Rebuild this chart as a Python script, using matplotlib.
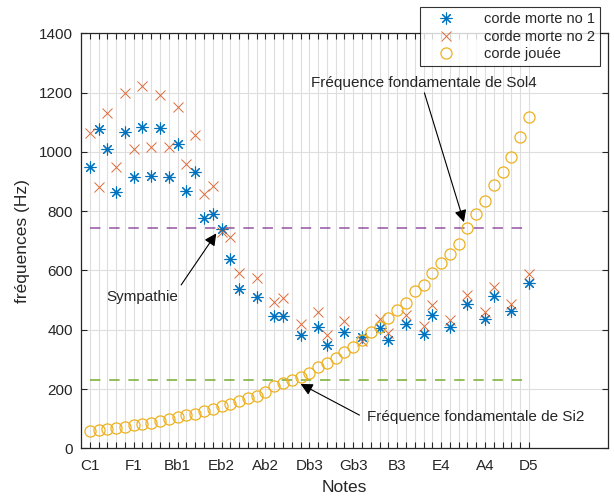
import numpy as np
import matplotlib
matplotlib.use("Agg")
import matplotlib.pyplot as plt

plt.rcParams["font.family"] = ["Liberation Sans", "DejaVu Sans"]
plt.rcParams["lines.scale_dashes"] = False

# note index 1..51 = C1 .. D5 (semitones)
note_pos = np.arange(1, 52)
tick_names = ["C1", "F1", "Bb1", "Eb2", "Ab2", "Db3", "Gb3", "B3", "E4", "A4", "D5"]

# corde jouee: frequency of each played note (Hz)
played = [60, 62, 64, 68, 73, 78, 81, 86, 93, 100,
          105, 111, 116, 125, 132, 142, 149, 158, 168, 178,
          191, 210, 219, 231, 240, 253, 273, 287, 305, 326,
          343, 366, 393, 410, 438, 468, 491, 529, 552, 590,
          626, 655, 690, 742, 789, 835, 887, 933, 982, 1051,
          1119]

# notes where the dead strings were measured
dead_pos = [1, 2, 3, 4, 5, 6, 7, 8, 9, 10, 11, 12, 13, 14, 15, 16, 17, 18,
            20, 22, 23, 25, 27, 28, 30, 32, 34, 35, 37, 39, 40, 42, 44, 46, 47, 49, 51]
dead1 = [950, 1077, 1009, 864, 1066, 916, 1085, 920, 1082, 914, 1027, 868, 933,
         776, 790, 739, 639, 536,
         509, 447, 447, 382, 408, 349, 393, 374, 405, 365, 419, 386, 450, 410,
         487, 435, 515, 464, 557]
dead2 = [1065, 880, 1130, 948, 1198, 1010, 1222, 1018, 1191, 1018, 1150, 958, 1056,
         858, 885, 731, 712, 592,
         576, 495, 506, 420, 461, 382, 429, 363, 435, 390, 450, 411, 482, 434,
         517, 461, 545, 487, 588]

f_sol4 = 744
f_si2 = 232

blue = "#0072BD"
orange = "#D95319"
yellow = "#EDB120"
purple = "#7E2F8E"
green = "#77AC30"
axcol = "#262626"

fig = plt.figure(figsize=(6.14, 4.99), dpi=100)
ax = fig.add_axes([0.1319, 0.1016, 0.8583, 0.8317])

ax.plot(dead_pos, dead1, ls="none", marker=(8, 2, 0), ms=8.5, mew=0.8,
        color=blue, label="corde morte no 1", zorder=3)
ax.plot(dead_pos, dead2, ls="none", marker="x", ms=7, mew=0.7,
        color=orange, alpha=0.85, label="corde morte no 2", zorder=3)
ax.plot(note_pos, played, ls="none", marker="o", ms=8, mew=0.9,
        mfc="none", color=yellow, label="corde jouée", zorder=3)

ax.plot([note_pos[0], note_pos[-1]], [f_sol4, f_sol4], color=purple, alpha=0.7,
        lw=1.3, dashes=(7.5, 6.3), zorder=2)
ax.plot([note_pos[0], note_pos[-1]], [f_si2, f_si2], color=green, alpha=0.85,
        lw=1.3, dashes=(7.5, 6.3), zorder=2)

ax.set_xlim(0, 60)
ax.set_ylim(0, 1400)
ax.set_xticks(note_pos)
labels = ["" for _ in note_pos]
for k, name in enumerate(tick_names):
    labels[k * 5] = name
ax.set_xticklabels(labels)
ax.set_yticks(np.arange(0, 1401, 200))

ax.grid(True, color="#dedede", lw=0.8)
ax.set_axisbelow(True)
ax.tick_params(direction="in", length=4, width=0.8, colors=axcol, labelsize=11,
               top=True, right=True, pad=6)
ax.tick_params(axis="x", pad=8)
ax.tick_params(axis="y", labelright=False)
for s in ax.spines.values():
    s.set_color(axcol)
    s.set_linewidth(0.9)

ax.set_xlabel("Notes", fontsize=12.5, color=axcol, labelpad=5)
ax.set_ylabel("fréquences (Hz)", fontsize=12.5, color=axcol, labelpad=6)

arrow = dict(arrowstyle="-|>", color="black", lw=0.8, mutation_scale=18,
             shrinkA=0, shrinkB=0)
ax.text(26.2, 1232, "Fréquence fondamentale de Sol4", fontsize=11,
        color=axcol, va="center", ha="left")
ax.annotate("", xy=(43.6, 763), xytext=(39.1, 1199), arrowprops=arrow)

ax.text(2.9, 511, "Sympathie", fontsize=11, color=axcol, va="center", ha="left")
ax.annotate("", xy=(15.4, 725), xytext=(11.4, 551), arrowprops=arrow)

ax.text(32.6, 107, "Fréquence fondamentale de Si2", fontsize=11,
        color=axcol, va="center", ha="left")
ax.annotate("", xy=(25.0, 217), xytext=(31.7, 112), arrowprops=arrow)

leg = fig.legend(loc="upper right", bbox_to_anchor=(0.977, 0.986),
                 fontsize=10.5, frameon=True, fancybox=False,
                 borderaxespad=0, handletextpad=1.2, labelspacing=0.25,
                 borderpad=0.35, handlelength=2.8)
leg.get_frame().set_edgecolor("black")
leg.get_frame().set_linewidth(0.8)
for t in leg.get_texts():
    t.set_color(axcol)

fig.savefig("out.png", dpi=100)
